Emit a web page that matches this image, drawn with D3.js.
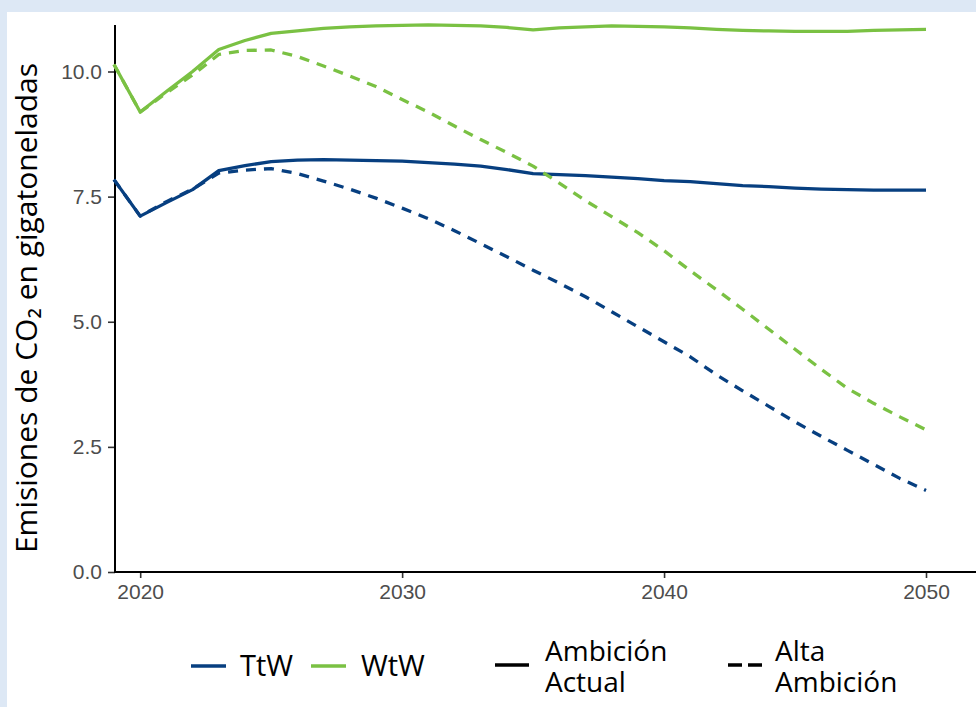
<!DOCTYPE html>
<html>
<head>
<meta charset="utf-8">
<script src="https://cdn.jsdelivr.net/npm/d3@7"></script>
<style>
  html, body { margin: 0; padding: 0; background: #dde8f5; }
  svg { display: block; }
</style>
</head>
<body>
<script>
// Emisiones de CO2 (Gt) por año, dos métricas y dos escenarios

const years = d3.range(2019, 2051);

const ttwActual = [7.84, 7.11, 7.38, 7.64, 8.02, 8.12, 8.20, 8.23, 8.24, 8.23, 8.22, 8.21,
                   8.18, 8.15, 8.11, 8.04, 7.96, 7.94, 7.92, 7.89, 7.86, 7.82, 7.80, 7.76,
                   7.72, 7.70, 7.67, 7.65, 7.64, 7.63, 7.63, 7.63];
const ttwAlta   = [7.84, 7.11, 7.40, 7.65, 7.97, 8.03, 8.06, 7.96, 7.81, 7.65, 7.47, 7.27,
                   7.06, 6.82, 6.56, 6.30, 6.03, 5.77, 5.50, 5.20, 4.90, 4.60, 4.30, 3.94,
                   3.62, 3.31, 3.00, 2.71, 2.43, 2.15, 1.87, 1.63];
const wtwActual = [10.14, 9.19, 9.60, 10.00, 10.44, 10.62, 10.76, 10.81, 10.86, 10.89, 10.91, 10.92,
                   10.93, 10.92, 10.91, 10.88, 10.83, 10.87, 10.89, 10.91, 10.90, 10.89, 10.87, 10.84,
                   10.82, 10.81, 10.80, 10.80, 10.80, 10.82, 10.83, 10.84];
const wtwAlta   = [10.14, 9.19, 9.57, 9.93, 10.34, 10.42, 10.43, 10.30, 10.11, 9.91, 9.70, 9.44,
                   9.19, 8.91, 8.64, 8.38, 8.11, 7.77, 7.42, 7.10, 6.78, 6.42, 6.02, 5.64,
                   5.25, 4.85, 4.45, 4.05, 3.67, 3.37, 3.10, 2.84];

const xTicks = [2020, 2030, 2040, 2050];
const yTicks = [0, 2.5, 5, 7.5, 10];

const metricas = ["TtW", "WtW"];
const escenarios = ["Ambición Actual", "Alta Ambición"];

let color = {"TtW": "#073f80", "WtW": "#7ac143"};
let dash = {"Ambición Actual": null, "Alta Ambición": "10,8"};

let series = [
    {metrica: "TtW", escenario: "Ambición Actual", values: ttwActual},
    {metrica: "TtW", escenario: "Alta Ambición", values: ttwAlta},
    {metrica: "WtW", escenario: "Ambición Actual", values: wtwActual},
    {metrica: "WtW", escenario: "Alta Ambición", values: wtwAlta}
];

const WIDTH = 976, HEIGHT = 707;

let svg = d3.select("body").append("svg")
    .attr("width", WIDTH)
    .attr("height", HEIGHT);

// panel blanco
svg.append("rect")
    .attr("x", 7).attr("y", 12)
    .attr("width", WIDTH - 7).attr("height", HEIGHT - 12)
    .attr("fill", "#ffffff");

let xScale = d3.scaleLinear().domain([2019, 2050]).range([114, 926]);
let yScale = d3.scaleLinear().domain([0, 10]).range([572, 71.5]);

// ejes
let xAxis = svg.append("g")
    .attr("transform", "translate(0,572)")
    .call(d3.axisBottom(xScale).tickValues(xTicks).tickFormat(d3.format("d"))
        .tickSize(6).tickPadding(6));
let yAxis = svg.append("g")
    .attr("transform", "translate(115,0)")
    .call(d3.axisLeft(yScale).tickValues(yTicks).tickFormat(d3.format(".1f"))
        .tickSize(7).tickPadding(6));

[xAxis, yAxis].forEach(a => {
    a.select(".domain").remove();
    a.selectAll(".tick line").attr("stroke", "#333333").attr("stroke-width", 1.6);
    a.selectAll(".tick text")
        .attr("fill", "#4d4d4d")
        .style("font-family", "'Liberation Sans', Arial, sans-serif")
        .style("font-size", "21px");
});

svg.append("line")
    .attr("x1", 115).attr("x2", 115)
    .attr("y1", 25).attr("y2", 572.8)
    .attr("stroke", "#000").attr("stroke-width", 2);
svg.append("line")
    .attr("x1", 114).attr("x2", WIDTH)
    .attr("y1", 572).attr("y2", 572)
    .attr("stroke", "#000").attr("stroke-width", 2);

// líneas
let line = d3.line()
    .x((d, i) => xScale(years[i]))
    .y(d => yScale(d));

svg.append("g").selectAll("path")
    .data(series)
    .enter().append("path")
        .attr("d", d => line(d.values))
        .attr("fill", "none")
        .attr("stroke", d => color[d.metrica])
        .attr("stroke-width", 3.3)
        .attr("stroke-linejoin", "round")
        .attr("stroke-dasharray", d => dash[d.escenario]);

// título eje y
svg.append("text")
    .attr("transform", "translate(37,308) rotate(-90)")
    .style("text-anchor", "middle")
    .style("font-family", "'Open Sans', sans-serif")
    .style("font-size", "30px")
    .attr("fill", "#000")
    .text("Emisiones de CO₂ en gigatoneladas");

// leyenda
let legendFont = "'Open Sans', sans-serif";
let legMetric = [{x: 191, tx: 240}, {x: 311, tx: 361}];
metricas.forEach((m, i) => {
    svg.append("line")
        .attr("x1", legMetric[i].x).attr("x2", legMetric[i].x + 35)
        .attr("y1", 666).attr("y2", 666)
        .attr("stroke", color[m]).attr("stroke-width", 3.5);
    svg.append("text")
        .attr("x", legMetric[i].tx).attr("y", 676)
        .style("font-family", legendFont).style("font-size", "29px")
        .text(m);
});

let legScen = [{x: 495, tx: 545, dash: null}, {x: 728, tx: 775, dash: "14,6"}];
escenarios.forEach((e, i) => {
    svg.append("line")
        .attr("x1", legScen[i].x).attr("x2", legScen[i].x + 34)
        .attr("y1", 665).attr("y2", 665)
        .attr("stroke", "#000").attr("stroke-width", 3.5)
        .attr("stroke-dasharray", legScen[i].dash);
    let words = e.split(" ");
    words.forEach((w, j) => {
        svg.append("text")
            .attr("x", legScen[i].tx).attr("y", 661 + j * 30.5)
            .style("font-family", legendFont).style("font-size", "28px")
            .text(w);
    });
});
</script>
</body>
</html>
